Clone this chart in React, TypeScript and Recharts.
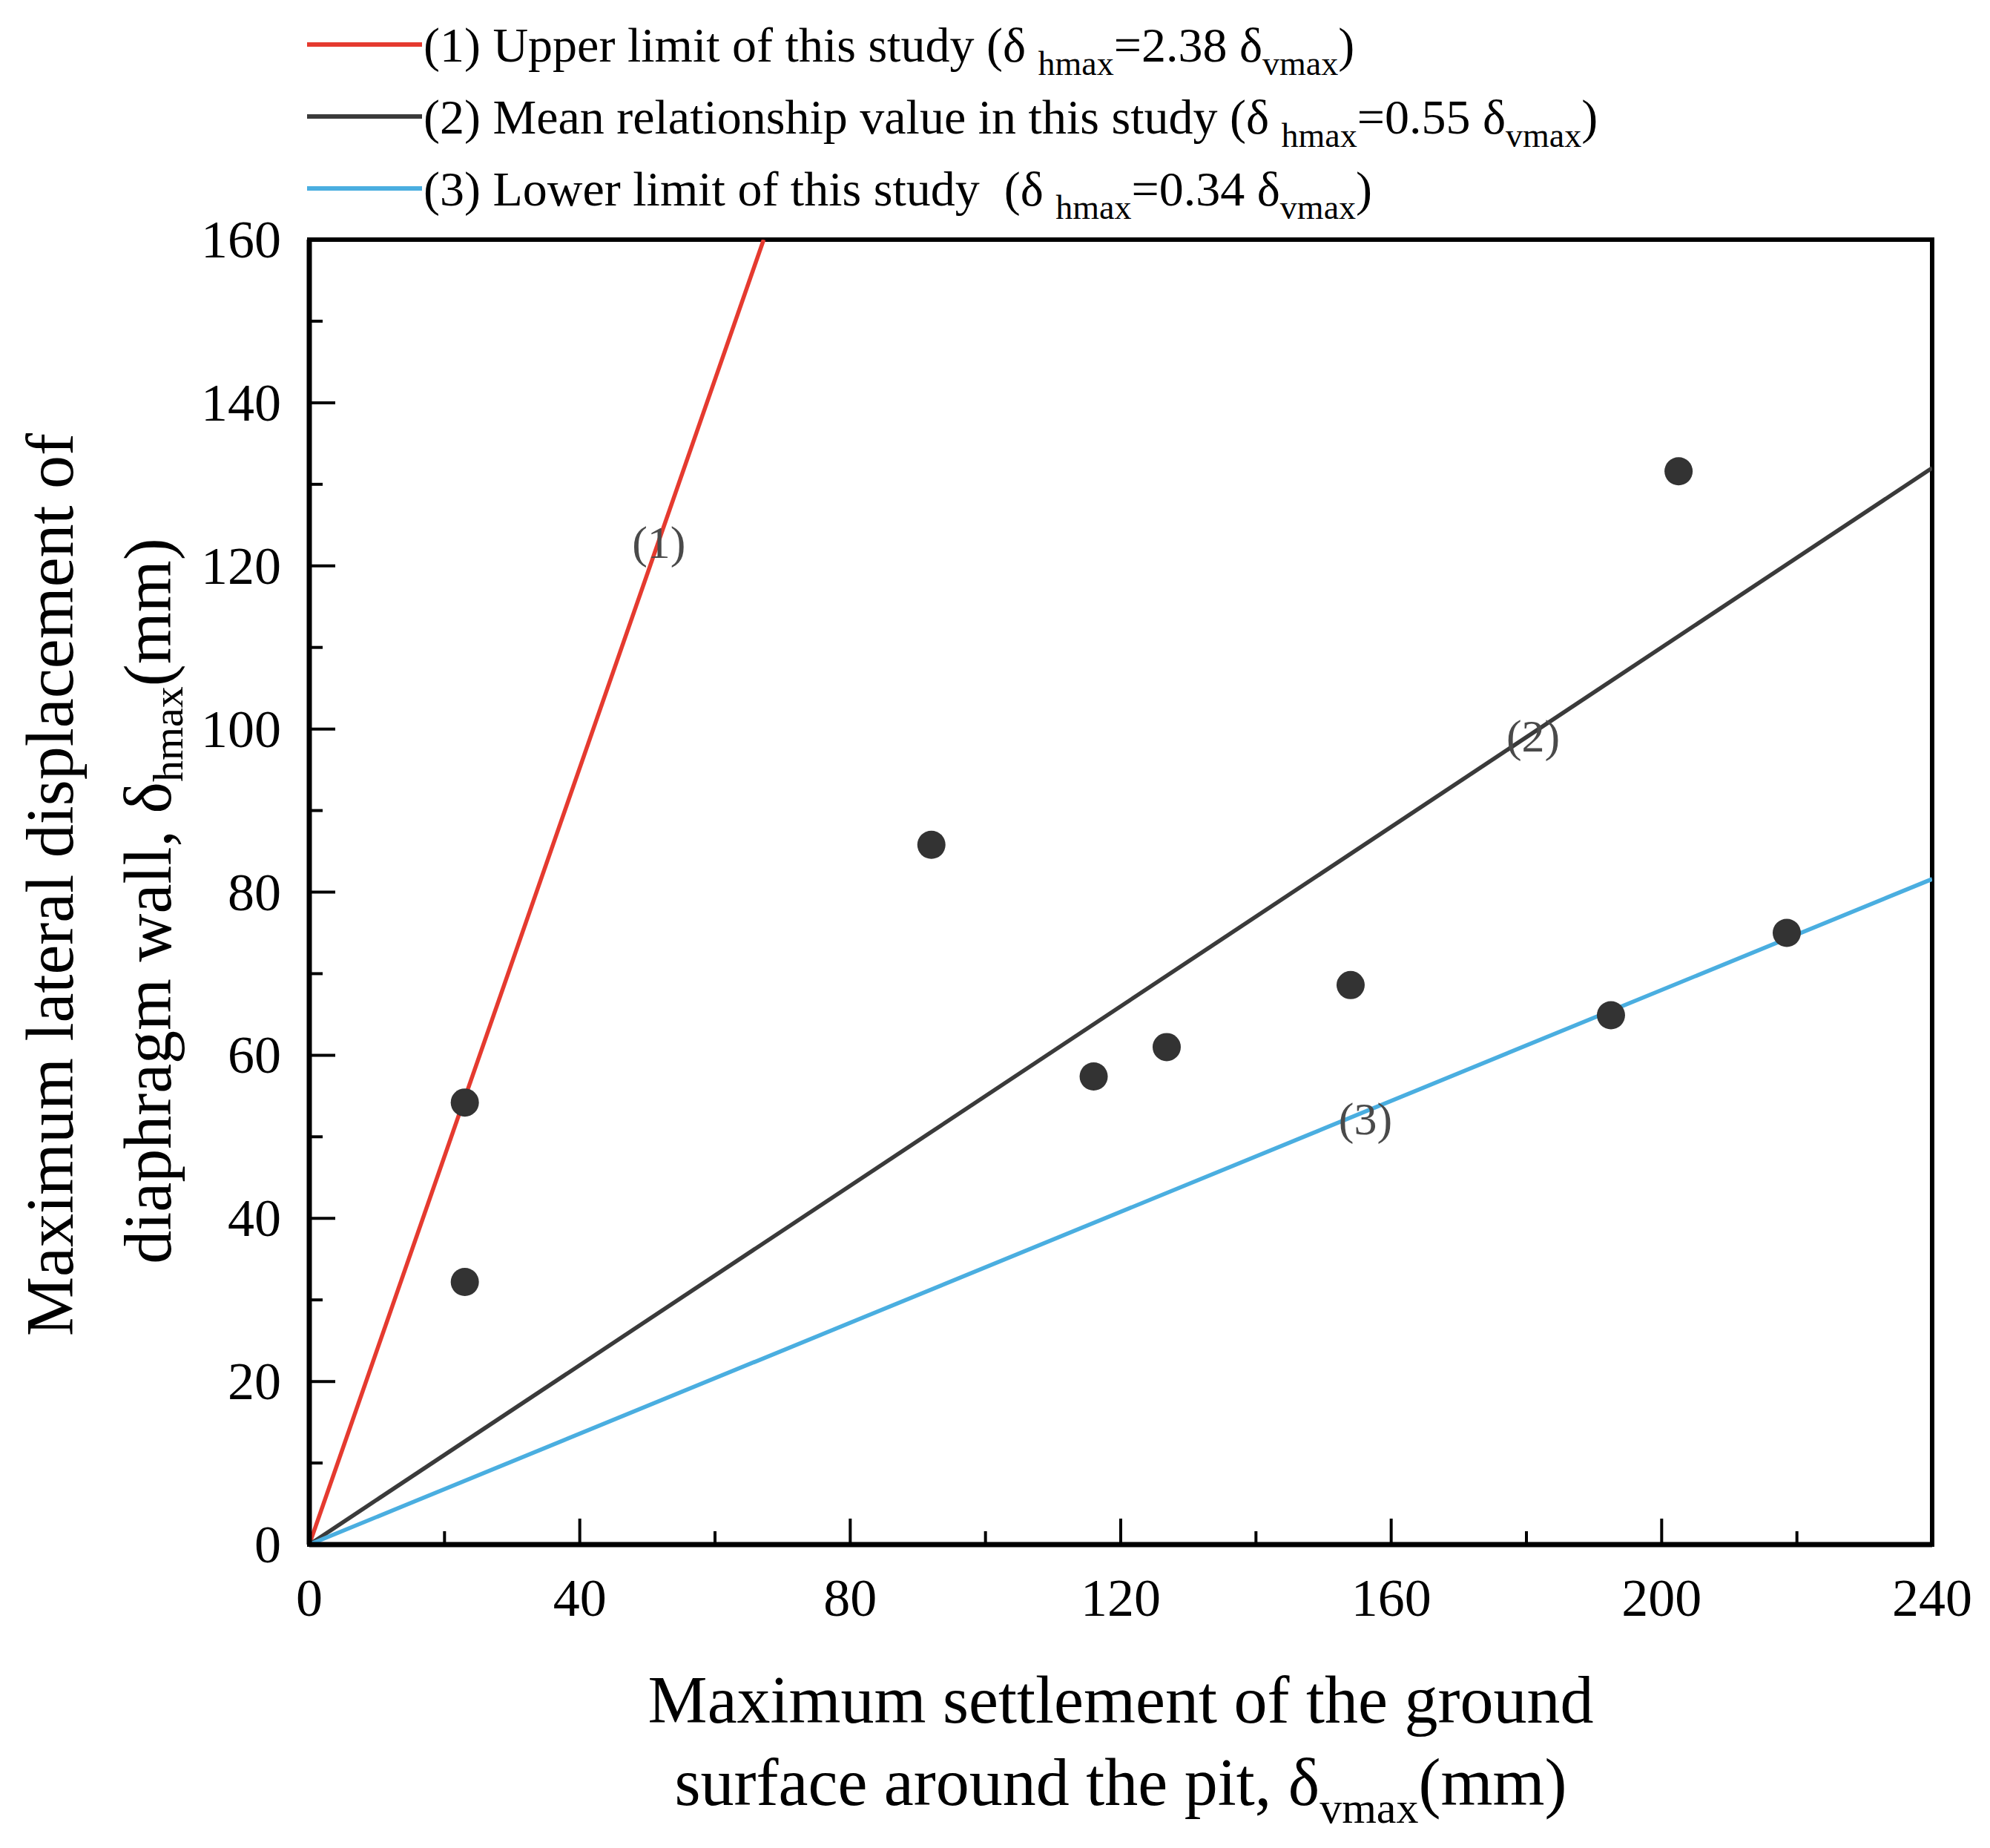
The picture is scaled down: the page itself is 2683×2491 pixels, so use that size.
import React from 'react'
import {
  ComposedChart, Line, Scatter, XAxis, YAxis, ReferenceArea, ReferenceDot, Label, Customized,
} from 'recharts'

// measured cases: settlement (x) vs. wall displacement (y), mm
const caseX = [23, 23, 92, 116, 126.8, 154, 192.5, 202.5, 218.5]
const caseY = [54.2, 32.2, 85.8, 57.4, 61, 68.6, 64.9, 131.6, 75]

// fitted relationship lines, end points
const upperLine = [{ x: 0, y: 0 }, { x: 67.2, y: 160 }]
const meanLine = [{ x: 0, y: 0 }, { x: 240, y: 132 }]
const lowerLine = [{ x: 0, y: 0 }, { x: 240, y: 81.6 }]

const xTicks = [0, 20, 40, 60, 80, 100, 120, 140, 160, 180, 200, 220, 240]
const yTicks = [0, 10, 20, 30, 40, 50, 60, 70, 80, 90, 100, 110, 120, 130, 140, 150, 160]

const seriesNames = ['(1) Upper limit of this study', '(2) Mean relationship value in this study', '(3) Lower limit of this study']
const seriesRatios = ['2.38', '0.55', '0.34']
const seriesColors = ['#e53a2f', '#3a3a3a', '#4aaee0']

const lineTags = [
  { x: 51.7, y: 122.8, text: '(1)' },
  { x: 181, y: 99.1, text: '(2)' },
  { x: 156.2, y: 52.1, text: '(3)' },
]

const points = caseX.map((x, i) => ({ x, y: caseY[i] }))

const FONT = '"Liberation Serif", "Times New Roman", serif'

const XTick = (props: any) => {
  const { x, y, payload } = props
  const major = payload.value % 40 === 0
  return (
    <g>
      <line x1={x} x2={x} y1={y} y2={y - (major ? 35 : 18)} stroke="#000" strokeWidth={4} />
      {major && (
        <text x={x} y={y + 96} textAnchor="middle" fontFamily={FONT} fontSize={72} fill="#000">
          {payload.value}
        </text>
      )}
    </g>
  )
}

const YTick = (props: any) => {
  const { x, y, payload } = props
  const major = payload.value % 20 === 0
  return (
    <g>
      <line x1={x} x2={x + (major ? 35 : 18)} y1={y} y2={y} stroke="#000" strokeWidth={4} />
      {major && (
        <text x={x - 38} y={y + 24} textAnchor="end" fontFamily={FONT} fontSize={72} fill="#000">
          {payload.value}
        </text>
      )}
    </g>
  )
}

const XTitle = (props: any) => {
  const vb = props.viewBox || {}
  const cx = vb.x + vb.width / 2
  const y0 = vb.y
  return (
    <g fontFamily={FONT} fontSize={90} fill="#000">
      <text x={cx} y={y0 + 240} textAnchor="middle">Maximum settlement of the ground</text>
      <text x={cx} y={y0 + 351} textAnchor="middle">
        surface around the pit, δ
        <tspan fontSize={60} dy={24}>vmax</tspan>
        <tspan dy={-24}>(mm)</tspan>
      </text>
    </g>
  )
}

const YTitle = (props: any) => {
  const vb = props.viewBox || {}
  const x0 = vb.x + vb.width
  const cy = vb.y + vb.height / 2
  const a = x0 - 319
  const b = x0 - 187
  return (
    <g fontFamily={FONT} fontSize={90} fill="#000">
      <text x={a} y={cy - 10} textAnchor="middle" transform={`rotate(-90, ${a}, ${cy - 10})`}>
        Maximum lateral displacement of
      </text>
      <text x={b} y={cy + 12} textAnchor="middle" transform={`rotate(-90, ${b}, ${cy + 12})`}>
        diaphragm wall, δ
        <tspan fontSize={58} dy={16}>hmax</tspan>
        <tspan dy={-16}>(mm)</tspan>
      </text>
    </g>
  )
}

const LegendBlock = () => (
  <g fontFamily={FONT} fontSize={66} fill="#000">
    {seriesNames.map((name, i) => {
      const ly = 60 + i * 97
      return (
        <g key={name}>
          <line x1={414} x2={569} y1={ly} y2={ly} stroke={seriesColors[i]} strokeWidth={6} />
          <text x={571} y={ly + 23} style={{ whiteSpace: 'pre' }}>
            {name + (i === 2 ? '  ' : ' ') + '(δ '}
            <tspan fontSize={46} dy={18}>hmax</tspan>
            <tspan dy={-18}>{'=' + seriesRatios[i] + ' δ'}</tspan>
            <tspan fontSize={46} dy={18}>vmax</tspan>
            <tspan dy={-18}>)</tspan>
          </text>
        </g>
      )
    })}
  </g>
)

const TagLabel = (text: string) => (props: any) => {
  const vb = props.viewBox || {}
  const cx = vb.cx ?? vb.x
  const cy = vb.cy ?? vb.y
  return (
    <text x={cx} y={cy + 20} textAnchor="middle" fontFamily={FONT} fontSize={62} fill="#4a4a4a">
      {text}
    </text>
  )
}

export default function App() {
  return (
    <div style={{ position: 'absolute', left: 0, top: 0, background: '#fff' }}>
      <ComposedChart
        width={2683}
        height={2491}
        margin={{ top: 323, right: 78, bottom: 408, left: 416 }}
      >
        <XAxis
          dataKey="x"
          type="number"
          domain={[0, 240]}
          ticks={xTicks}
          interval={0}
          height={1}
          tickSize={0}
          tickMargin={0}
          tickLine={false}
          tick={(p: any) => <XTick {...p} />}
          axisLine={{ stroke: '#000', strokeWidth: 7 }}
          allowDataOverflow
        >
          <Label content={XTitle} />
        </XAxis>
        <YAxis
          type="number"
          domain={[0, 160]}
          ticks={yTicks}
          interval={0}
          width={1}
          tickSize={0}
          tickMargin={0}
          tickLine={false}
          tick={(p: any) => <YTick {...p} />}
          axisLine={{ stroke: '#000', strokeWidth: 7 }}
          allowDataOverflow
        >
          <Label content={YTitle} />
        </YAxis>
        <Line data={upperLine} dataKey="y" stroke={seriesColors[0]} strokeWidth={5.5} dot={false} isAnimationActive={false} />
        <Line data={meanLine} dataKey="y" stroke={seriesColors[1]} strokeWidth={5.5} dot={false} isAnimationActive={false} />
        <Line data={lowerLine} dataKey="y" stroke={seriesColors[2]} strokeWidth={5.5} dot={false} isAnimationActive={false} />
        <Scatter
          data={points}
          dataKey="y"
          isAnimationActive={false}
          shape={(p: any) => <circle cx={p.cx} cy={p.cy} r={19} fill="#333" />}
        />
        {lineTags.map((t) => (
          <ReferenceDot key={t.text} x={t.x} y={t.y} r={0} fill="none" stroke="none" label={{ content: TagLabel(t.text) }} />
        ))}
        <ReferenceArea x1={0} x2={240} y1={0} y2={160} fill="none" stroke="#000" strokeWidth={6} />
        <Customized component={LegendBlock} />
      </ComposedChart>
    </div>
  )
}
